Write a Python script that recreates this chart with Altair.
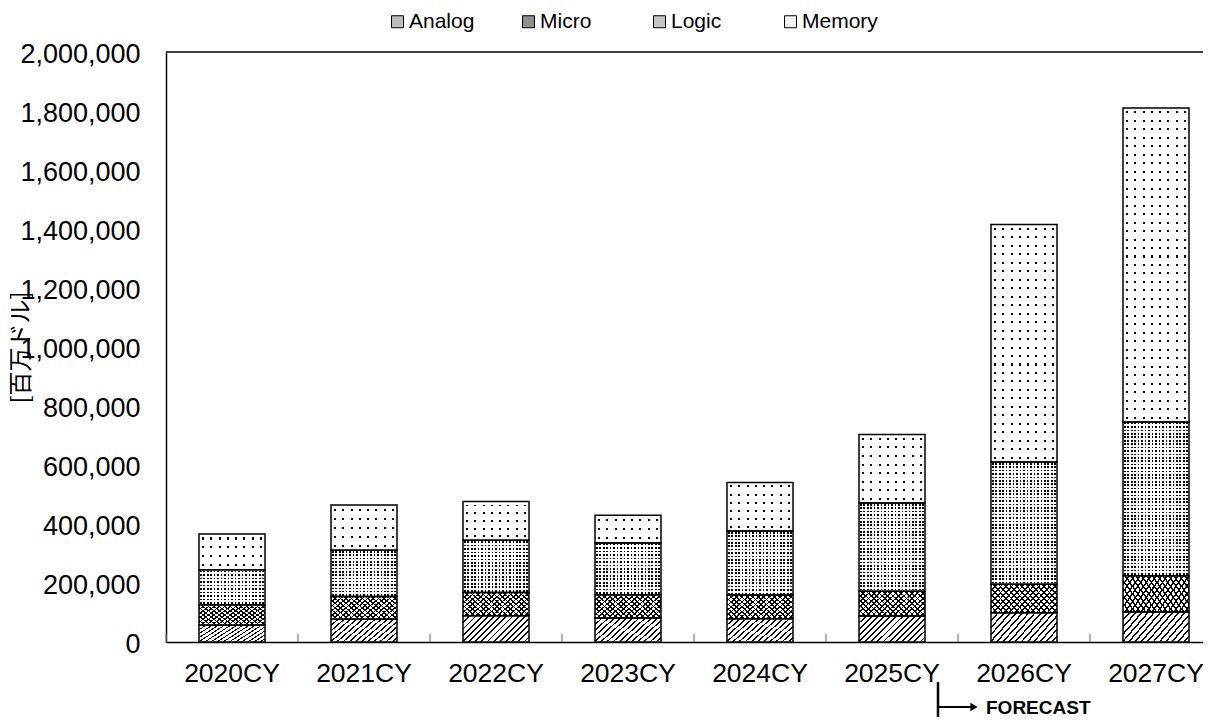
import altair as alt
import pandas as pd

years = ["2020CY", "2021CY", "2022CY", "2023CY", "2024CY", "2025CY", "2026CY", "2027CY"]
categories = ["Analog", "Micro", "Logic", "Memory"]
analog = [57000, 77000, 89000, 81000, 79000, 88000, 99000, 102000]
micro = [69000, 77000, 79000, 79000, 80000, 84000, 97000, 123000]
logic = [119000, 157000, 177000, 176000, 217000, 299000, 414000, 521000]
memory = [121000, 153000, 131000, 94000, 165000, 232000, 805000, 1064000]
y_ticks = [0, 200000, 400000, 600000, 800000, 1000000, 1200000, 1400000, 1600000, 1800000, 2000000]
forecast_start = "2025CY"
forecast_label = "FORECAST"
y_title = "[百万ドル]"

series = {"Analog": analog, "Micro": micro, "Logic": logic, "Memory": memory}
rows = []
for ci, c in enumerate(categories):
    for yi, y in enumerate(years):
        rows.append({"year": y, "cat": c, "order": ci, "value": series[c][yi]})
df = pd.DataFrame(rows)

W, H = 1037, 590
XR = 1056
YMAX = 2000000
BARW = 66
FONT = "Liberation Sans"
CLEAR = "rgba(255,255,255,0)"


def stripes(x1, y1, x2, y2, n, frac, fg, bg):
    stops = []
    for k in range(n):
        a = round(k / n, 5)
        b = round((k + frac) / n, 5)
        e = round((k + 1) / n, 5)
        stops += [
            alt.GradientStop(offset=a, color=fg),
            alt.GradientStop(offset=b, color=fg),
            alt.GradientStop(offset=b, color=bg),
            alt.GradientStop(offset=e, color=bg),
        ]
    return alt.LinearGradient(gradient="linear", x1=x1, y1=y1, x2=x2, y2=y2, stops=stops)


def slots(vertical, n, frac):
    # white bands with narrow transparent slots centred in each cell
    stops = []
    for k in range(n):
        a = round(k / n, 5)
        s0 = round((k + 0.5 - frac / 2) / n, 5)
        s1 = round((k + 0.5 + frac / 2) / n, 5)
        e = round((k + 1) / n, 5)
        stops += [
            alt.GradientStop(offset=a, color="#ffffff"),
            alt.GradientStop(offset=s0, color="#ffffff"),
            alt.GradientStop(offset=s0, color=CLEAR),
            alt.GradientStop(offset=s1, color=CLEAR),
            alt.GradientStop(offset=s1, color="#ffffff"),
            alt.GradientStop(offset=e, color="#ffffff"),
        ]
    if vertical:
        return alt.LinearGradient(gradient="linear", x1=0, y1=0, x2=1, y2=0, stops=stops)
    return alt.LinearGradient(gradient="linear", x1=0, y1=0, x2=0, y2=1, stops=stops)


hatch_fwd = stripes(0, 0, 1.21, 0.48, 15, 0.30, "#000000", "#ffffff")
cross_a = stripes(0, 0, 1.21, 0.48, 17, 0.32, "#000000", "#ffffff")
cross_b = stripes(0, 1, 1.21, 0.52, 17, 0.32, "#000000", CLEAR)

xscale = alt.Scale(domain=years, range=[0, XR], paddingInner=0.5, paddingOuter=0.25)

base = alt.Chart(df).transform_stack(
    stack="value", groupby=["year"], as_=["y0", "y1"], sort=[alt.SortField("order", order="ascending")]
)

x_main = alt.X(
    "year:N",
    scale=xscale,
    sort=years,
    axis=alt.Axis(
        title=None, labelAngle=0, ticks=False, domainColor="black", domainWidth=1.5,
        labelFont=FONT, labelFontSize=26.5, labelColor="black", labelPadding=18,
    ),
)
y_main = alt.Y(
    "y0:Q",
    scale=alt.Scale(domain=[0, YMAX], nice=False),
    axis=alt.Axis(
        values=y_ticks, format=",d", grid=False, ticks=False, domainColor="black", domainWidth=1.5,
        labelFont=FONT, labelFontSize=27, labelColor="black", labelPadding=26, labelOffset=2,
        title=y_title, titleFont="Noto Sans CJK JP", titleFontSize=24, titleFontWeight="normal",
        titleColor="black", titleX=-145, titleY=295, titleBaseline="middle", titleAngle=270,
    ),
)

bars = base.mark_bar().encode(
    x=x_main,
    y=y_main,
    y2="y1:Q",
    fill=alt.Fill(
        "cat:N",
        scale=alt.Scale(domain=categories, range=["#bdbdbd", "#8f8f8f", "#c4c4c4", "#f2f2f2"]),
        legend=alt.Legend(
            title=None, orient="none", legendX=221, legendY=-41, direction="horizontal",
            columns=4, gridAlign="all", columnPadding=33, padding=0,
            symbolType="square", symbolSize=144, symbolStrokeColor="black", symbolStrokeWidth=1,
            labelFont=FONT, labelFontSize=21, labelColor="black", labelOffset=1,
        ),
    ),
)

enc = dict(x=alt.X("year:N"), y=alt.Y("y0:Q"), y2="y1:Q")
layers = [bars]
layers.append(base.transform_filter(alt.datum.cat == "Analog").mark_bar(fill=hatch_fwd).encode(**enc))
layers.append(base.transform_filter(alt.datum.cat == "Micro").mark_bar(fill=cross_a).encode(**enc))
layers.append(base.transform_filter(alt.datum.cat == "Micro").mark_bar(fill=cross_b).encode(**enc))

# dotted fills: black segment, white vertical bands with slots, white horizontal bands with slots
dot_style = {"Logic": (3.4, 0.48), "Memory": (8.4, 0.24)}
for cat, (pitch, frac) in dot_style.items():
    sel = base.transform_filter(alt.datum.cat == cat)
    layers.append(sel.mark_bar(fill="#000000").encode(**enc))
    layers.append(sel.mark_bar(fill=slots(True, round(BARW / pitch), frac)).encode(**enc))
    for yi, yr in enumerate(years):
        h_px = series[cat][yi] / YMAX * H
        n_rows = max(1, round(h_px / pitch))
        layers.append(
            base.transform_filter((alt.datum.cat == cat) & (alt.datum.year == yr))
            .mark_bar(fill=slots(False, n_rows, frac))
            .encode(**enc)
        )

layers.append(base.mark_bar(fillOpacity=0, stroke="black", strokeWidth=1.5).encode(**enc))

tick_df = pd.DataFrame({"year": years})
layers.append(
    alt.Chart(tick_df).mark_rule(color="#808080", strokeWidth=1.2, xOffset=-66).encode(
        x=alt.X("year:N"), y=alt.value(H - 8), y2=alt.value(H)
    )
)

top_df = pd.DataFrame({"k": [0]})
layers.append(
    alt.Chart(top_df).mark_rule(color="black", strokeWidth=1.5).encode(
        x=alt.value(0), x2=alt.value(XR + 10), y=alt.value(0)
    )
)

ann_df = pd.DataFrame({"year": [forecast_start], "label": [forecast_label]})
ann = alt.Chart(ann_df)
layers.append(ann.mark_rule(color="black", strokeWidth=2.5, xOffset=46).encode(
    x=alt.X("year:N"), y=alt.value(H + 40), y2=alt.value(H + 90)
))
layers.append(ann.mark_rule(color="black", strokeWidth=2, xOffset=46, x2Offset=80).encode(
    x=alt.X("year:N"), x2=alt.X2("year"), y=alt.value(H + 65)
))
layers.append(ann.mark_point(shape="triangle-right", filled=True, color="black", size=70, opacity=1, xOffset=82).encode(
    x=alt.X("year:N"), y=alt.value(H + 65)
))
layers.append(ann.mark_text(align="left", baseline="middle", font=FONT, fontSize=19, fontWeight="bold", color="black", xOffset=94).encode(
    x=alt.X("year:N"), y=alt.value(H + 66), text="label:N"
))

chart = alt.layer(*layers).properties(
    width=W, height=H,
    autosize=alt.AutoSizeParams(type="none"),
    padding={"left": 158, "top": 44, "right": 0, "bottom": 75},
).configure_view(stroke="transparent")

chart.save("out.html", embed_options={"renderer": "svg", "actions": False})
